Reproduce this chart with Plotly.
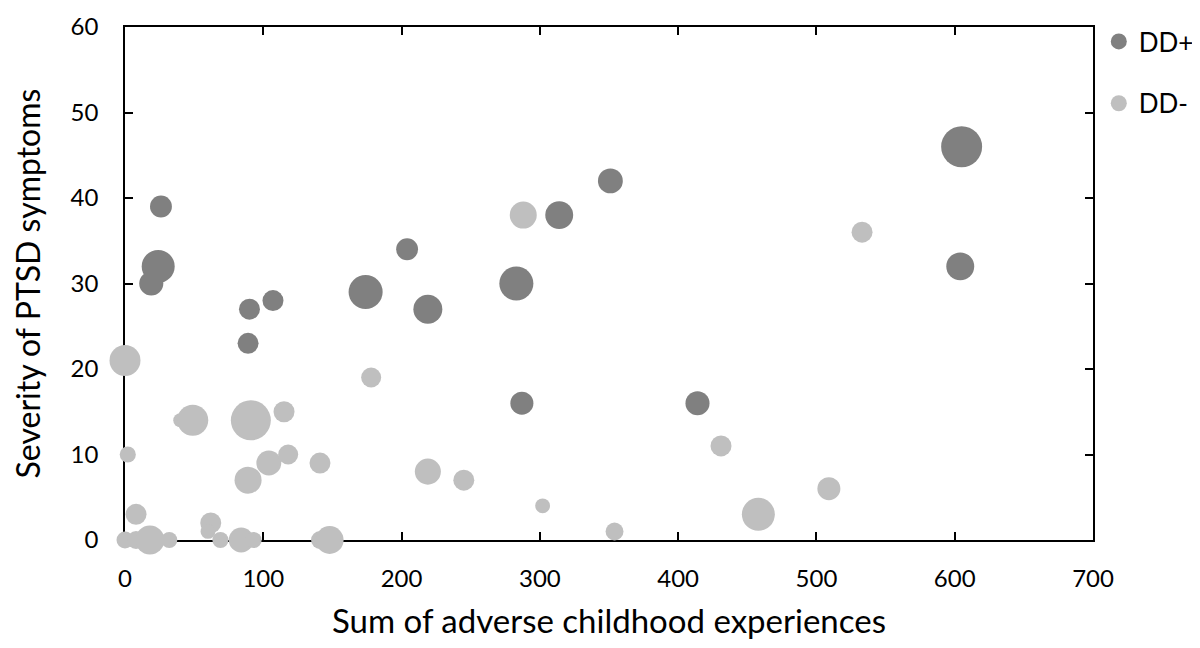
import plotly.graph_objects as go

# DD+ group
ddp_x = [26, 24, 19, 107, 90, 89, 174, 204, 219, 351, 314, 283, 287, 414, 605, 604]
ddp_y = [39, 32, 30, 28, 27, 23, 29, 34, 27, 42, 38, 30, 16, 16, 46, 32]
ddp_w = [48, 109, 58, 44, 44, 44, 116, 48, 84, 62, 78, 116, 53, 58, 168, 78]

# DD- group
ddm_x = [0, 178, 288, 533, 40, 49, 91, 115, 2, 104, 118, 141, 219, 245, 89, 8, 62, 60,
         302, 354, 431, 458, 509, 0, 8, 18, 32, 69, 84, 93, 141, 148]
ddm_y = [21, 19, 38, 36, 14, 14, 14, 15, 10, 9, 10, 9, 8, 7, 7, 3, 2, 1,
         4, 1, 11, 3, 6, 0, 0, 0, 0, 0, 0, 0, 0, 0]
ddm_w = [96, 40, 73, 44, 20, 96, 160, 44, 26, 62, 40, 44, 68, 44, 73, 44, 44, 22,
         22, 32, 44, 109, 53, 29, 32, 84, 26, 26, 62, 26, 32, 78]

x_ticks = [0, 100, 200, 300, 400, 500, 600, 700]
y_ticks = [0, 10, 20, 30, 40, 50, 60]

FONT = "Lato"
SIZEREF = 0.2
fig = go.Figure()
fig.add_trace(go.Scatter(
    x=ddp_x, y=ddp_y, mode="markers", name="DD+", legendgroup="a",
    marker=dict(size=ddp_w, sizemode="area", sizeref=SIZEREF, color="#808080",
                line=dict(width=0), opacity=1),
    cliponaxis=False))
fig.add_trace(go.Scatter(
    x=ddm_x, y=ddm_y, mode="markers", name="DD-", legendgroup="b",
    marker=dict(size=ddm_w, sizemode="area", sizeref=SIZEREF, color="#BFBFBF",
                line=dict(width=0), opacity=1),
    cliponaxis=False))

axis_common = dict(showline=True, linecolor="black", linewidth=1.5, mirror="ticks",
                   ticks="inside", ticklen=8, tickwidth=1.5, tickcolor="black",
                   showgrid=False, zeroline=False, layer="below traces", automargin=False,
                   tickfont=dict(family=FONT, size=24, color="black"))

fig.update_xaxes(range=[0, 700], tickvals=x_ticks, ticklabelstandoff=16,
                 title=dict(text="Sum of adverse childhood experiences",
                            font=dict(family=FONT, size=33, color="black"), standoff=25),
                 **axis_common)
fig.update_yaxes(range=[0, 60], tickvals=y_ticks, ticklabelstandoff=20,
                 title=dict(text="Severity of PTSD symptoms",
                            font=dict(family=FONT, size=32, color="black"), standoff=38),
                 **axis_common)

fig.update_layout(
    width=1192, height=632, autosize=False,
    margin=dict(l=117, r=107, t=19, b=100, autoexpand=False),
    paper_bgcolor="white", plot_bgcolor="white",
    showlegend=True,
    legend=dict(x=1.006, y=1.0175, xanchor="left", yanchor="top",
                font=dict(family=FONT, size=26, color="black"),
                tracegroupgap=25, bgcolor="rgba(0,0,0,0)", itemsizing="trace"),
    font=dict(family=FONT, color="black"),
)

fig.write_html("out.html", config={"responsive": False})
